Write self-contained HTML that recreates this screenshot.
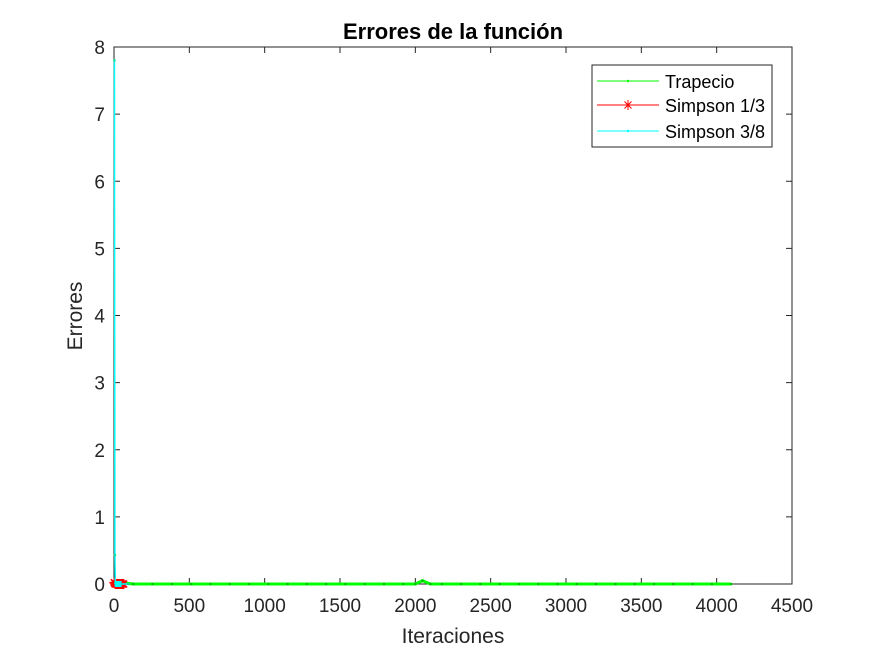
<!DOCTYPE html>
<html><head><meta charset="utf-8"><style>
body{margin:0;background:#fff;}
svg{display:block;font-family:"Liberation Sans",Arial,sans-serif;}
</style></head><body>
<svg id="chart" width="875" height="656">
<rect width="875" height="656" fill="#fff"/>
<rect x="114" y="47" width="678" height="537" fill="#fff" stroke="#262626" stroke-width="1"/>
<g id="ticks"></g>
<g id="series"></g>
<text x="453" y="39" text-anchor="middle" font-size="22" font-weight="bold" fill="#000">Errores de la función</text>
<text x="453" y="643" text-anchor="middle" font-size="21" fill="#262626">Iteraciones</text>
<text transform="translate(82,316) rotate(-90)" text-anchor="middle" font-size="21" fill="#262626">Errores</text>
<g>
<rect x="592" y="65" width="180" height="82" fill="#fff" stroke="#262626" stroke-width="1"/>
<g>
<line x1="597" y1="81" x2="659" y2="81" stroke="#00ff00" stroke-width="1"/>
<circle cx="628" cy="81" r="1.2" fill="#00ff00"/>
<text x="665" y="88" font-size="18" fill="#000">Trapecio</text></g>
<g>
<line x1="597" y1="105" x2="659" y2="105" stroke="#ff0000" stroke-width="1"/>
<path d="M628 100V110M623 105H633M624.5 101.5L631.5 108.5M631.5 101.5L624.5 108.5" stroke="#ff0000" stroke-width="1"/>
<text x="665" y="112" font-size="18" fill="#000">Simpson 1/3</text></g>
<g>
<line x1="597" y1="131" x2="659" y2="131" stroke="#00ffff" stroke-width="1"/>
<circle cx="628" cy="131" r="1.2" fill="#00ffff"/>
<text x="665" y="138" font-size="18" fill="#000">Simpson 3/8</text></g>
</g>
</svg>
<script>
const xTicks=[0,500,1000,1500,2000,2500,3000,3500,4000,4500];
const yTicks=[0,1,2,3,4,5,6,7,8];
const trapX=[1,128,256,384,512,640,768,896,1024,1152,1280,1408,1536,1664,1792,1920,2000,2048,2100,2176,2304,2432,2560,2688,2816,2944,3072,3200,3328,3456,3584,3712,3840,3968,4096];
const trapY=[0.03,0,0,0,0,0,0,0,0,0,0,0,0,0,0,0,0,0.05,0,0,0,0,0,0,0,0,0,0,0,0,0,0,0,0,0];
const simp13X=[2,8,16,24,32,40,48,56,64];
const simp13Y=[0.02,0,0,0,0,0,0,0,0];
const simp38X=[3,6,9,12,24,48,96];
const simp38Y=[7.8,0.43,0.01,0,0,0,0];
const X0=114,X1=792,Y0=584,Y1=47;
const sx=v=>X0+(v-0)/(4500-0)*(X1-X0);
const sy=v=>Y0-(v-0)/(8-0)*(Y0-Y1);
const NS='http://www.w3.org/2000/svg';
const tg=document.getElementById('ticks'),sg=document.getElementById('series');
function mk(tag,at,parent){const e=document.createElementNS(NS,tag);for(const k in at)e.setAttribute(k,at[k]);parent.appendChild(e);return e;}
xTicks.forEach(t=>{
 const x=sx(t);
 const l=mk('line',{x1:x,y1:Y0,x2:x,y2:Y0-6,stroke:'#262626'},tg);
 
 
 mk('line',{x1:x,y1:Y1,x2:x,y2:Y1+6,stroke:'#262626'},tg);
 const tx=mk('text',{x:x,y:612,'text-anchor':'middle','font-size':'19',fill:'#262626'},tg);
 tx.textContent=t;
 
 
});
yTicks.forEach(t=>{
 const y=sy(t);
 const l=mk('line',{x1:X0,y1:y,x2:X0+6,y2:y,stroke:'#262626'},tg);
 
 
 mk('line',{x1:X1,y1:y,x2:X1-6,y2:y,stroke:'#262626'},tg);
 const tx=mk('text',{x:105,y:y+7,'text-anchor':'end','font-size':'19',fill:'#262626'},tg);
 tx.textContent=t;
 
 
});
function series(xs,ys,color,name,w){
 const p=mk('polyline',{points:xs.map((x,i)=>sx(x)+','+sy(ys[i])).join(' '),fill:'none',stroke:color,'stroke-width':w},sg);
 
 
 return p;
}
series(trapX,trapY,'#00ff00','trapecio-line',3);
trapX.forEach((x,i)=>{const c=mk('circle',{cx:sx(x),cy:sy(trapY[i]),r:1.3,fill:'#00c000'},sg);
 
 });
series(simp13X,simp13Y,'#ff0000','simpson-1-3-line',1);
simp13X.forEach((x,i)=>{const cx=sx(x),cy=sy(simp13Y[i]);
 const s=mk('path',{d:`M${cx} ${cy-5}V${cy+5}M${cx-5} ${cy}H${cx+5}M${cx-3.5} ${cy-3.5}L${cx+3.5} ${cy+3.5}M${cx+3.5} ${cy-3.5}L${cx-3.5} ${cy+3.5}`,stroke:'#ff0000','stroke-width':1.5,fill:'none'},sg);
 
 });
series(simp38X,simp38Y,'#00ffff','simpson-3-8-line',1.5);
simp38X.forEach((x,i)=>{const c=mk('circle',{cx:sx(x),cy:sy(simp38Y[i]),r:1.3,fill:'#00e0a0'},sg);
 
 });
const box=mk('rect',{x:sx(5),y:sy(0)-3,width:sx(50)-sx(5),height:6,fill:'#00ffff'},sg);


</script>
</body></html>
